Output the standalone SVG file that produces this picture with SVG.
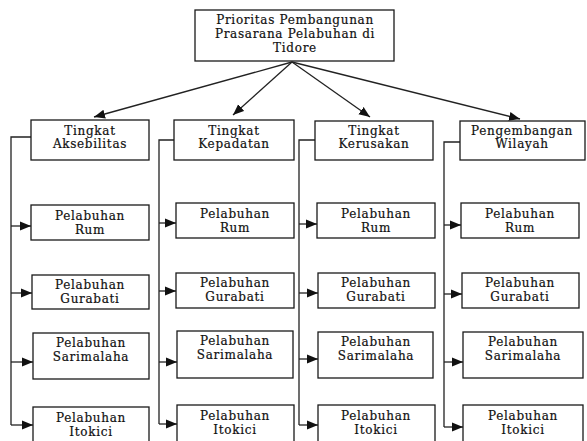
<svg xmlns="http://www.w3.org/2000/svg" width="587" height="441" viewBox="0 0 587 441">
<style>
.box{fill:#fff;stroke:#1a1a1a;stroke-width:1.3}
.t{font-family:"DejaVu Serif","Liberation Serif",serif;font-size:12px;letter-spacing:0.7px;fill:#111;stroke:#111;stroke-width:0.2;text-anchor:middle}
.ln{fill:none;stroke:#222;stroke-width:1.3}
</style>
<defs>
<marker id="ah" markerUnits="userSpaceOnUse" markerWidth="12" markerHeight="10" refX="11" refY="5" orient="auto">
<path d="M0,0.5 L11,5 L0,9.5 z" fill="#111"/>
</marker>
</defs>
<rect width="587" height="441" fill="#fff"/>
<g id="connectors">
<line class="ln" x1="292" y1="62" x2="94" y2="117" marker-end="url(#ah)"/>
<line class="ln" x1="292" y1="62" x2="233" y2="115" marker-end="url(#ah)"/>
<line class="ln" x1="292" y1="62" x2="370" y2="117" marker-end="url(#ah)"/>
<line class="ln" x1="292" y1="62" x2="520" y2="119" marker-end="url(#ah)"/>
<polyline class="ln" points="31,137 11,137 11,425"/>
<line class="ln" x1="11" y1="226" x2="31" y2="226" marker-end="url(#ah)"/>
<line class="ln" x1="11" y1="293" x2="32" y2="293" marker-end="url(#ah)"/>
<line class="ln" x1="11" y1="362" x2="33" y2="362" marker-end="url(#ah)"/>
<line class="ln" x1="11" y1="425" x2="33" y2="425" marker-end="url(#ah)"/>
<polyline class="ln" points="174,140 159,140 159,424"/>
<line class="ln" x1="159" y1="223" x2="176" y2="223" marker-end="url(#ah)"/>
<line class="ln" x1="159" y1="291" x2="176" y2="291" marker-end="url(#ah)"/>
<line class="ln" x1="159" y1="362" x2="177" y2="362" marker-end="url(#ah)"/>
<line class="ln" x1="159" y1="424" x2="177" y2="424" marker-end="url(#ah)"/>
<polyline class="ln" points="315,140 299,140 299,425"/>
<line class="ln" x1="299" y1="224" x2="317" y2="224" marker-end="url(#ah)"/>
<line class="ln" x1="299" y1="293" x2="318" y2="293" marker-end="url(#ah)"/>
<line class="ln" x1="299" y1="359" x2="318" y2="359" marker-end="url(#ah)"/>
<line class="ln" x1="299" y1="425" x2="318" y2="425" marker-end="url(#ah)"/>
<polyline class="ln" points="460,142 444,142 444,427"/>
<line class="ln" x1="444" y1="225" x2="461" y2="225" marker-end="url(#ah)"/>
<line class="ln" x1="444" y1="294" x2="462" y2="294" marker-end="url(#ah)"/>
<line class="ln" x1="444" y1="362" x2="463" y2="362" marker-end="url(#ah)"/>
<line class="ln" x1="444" y1="427" x2="463" y2="427" marker-end="url(#ah)"/>
</g>
<g id="root"><rect class="box" x="195" y="10" width="199" height="51"/>
<text class="t" x="295" y="24">Prioritas Pembangunan</text><text class="t" x="295" y="38">Prasarana Pelabuhan di</text><text class="t" x="295" y="52">Tidore</text></g>
<g id="aks"><rect class="box" x="31" y="120" width="118" height="40"/><text class="t" x="90" y="135">Tingkat</text><text class="t" x="90" y="148">Aksebilitas</text></g>
<g id="kep"><rect class="box" x="174" y="120" width="120" height="40"/><text class="t" x="234" y="135">Tingkat</text><text class="t" x="234" y="148">Kepadatan</text></g>
<g id="ker"><rect class="box" x="315" y="121" width="118" height="39"/><text class="t" x="374" y="135">Tingkat</text><text class="t" x="374" y="148">Kerusakan</text></g>
<g id="wil"><rect class="box" x="460" y="121" width="125" height="39"/><text class="t" x="522" y="135">Pengembangan</text><text class="t" x="522" y="148">Wilayah</text></g>

<g id="c1-rum"><rect class="box" x="31" y="205" width="118" height="35"/><text class="t" x="90" y="220">Pelabuhan</text><text class="t" x="90" y="234">Rum</text></g>
<g id="c1-gur"><rect class="box" x="32" y="275" width="117" height="34"/><text class="t" x="90" y="289">Pelabuhan</text><text class="t" x="90" y="303">Gurabati</text></g>
<g id="c1-sar"><rect class="box" x="33" y="333" width="116" height="46"/><text class="t" x="91" y="347">Pelabuhan</text><text class="t" x="91" y="361">Sarimalaha</text></g>
<g id="c1-ito"><rect class="box" x="33" y="407" width="116" height="44"/><text class="t" x="91" y="422">Pelabuhan</text><text class="t" x="91" y="436">Itokici</text></g>

<g id="c2-rum"><rect class="box" x="176" y="203" width="118" height="35"/><text class="t" x="235" y="218">Pelabuhan</text><text class="t" x="235" y="232">Rum</text></g>
<g id="c2-gur"><rect class="box" x="176" y="273" width="118" height="35"/><text class="t" x="235" y="287">Pelabuhan</text><text class="t" x="235" y="301">Gurabati</text></g>
<g id="c2-sar"><rect class="box" x="177" y="331" width="116" height="47"/><text class="t" x="235" y="345">Pelabuhan</text><text class="t" x="235" y="359">Sarimalaha</text></g>
<g id="c2-ito"><rect class="box" x="177" y="405" width="117" height="46"/><text class="t" x="235" y="420">Pelabuhan</text><text class="t" x="235" y="434">Itokici</text></g>

<g id="c3-rum"><rect class="box" x="317" y="203" width="118" height="35"/><text class="t" x="376" y="218">Pelabuhan</text><text class="t" x="376" y="232">Rum</text></g>
<g id="c3-gur"><rect class="box" x="318" y="273" width="117" height="35"/><text class="t" x="376" y="287">Pelabuhan</text><text class="t" x="376" y="301">Gurabati</text></g>
<g id="c3-sar"><rect class="box" x="318" y="332" width="115" height="46"/><text class="t" x="376" y="346">Pelabuhan</text><text class="t" x="376" y="360">Sarimalaha</text></g>
<g id="c3-ito"><rect class="box" x="318" y="405" width="117" height="46"/><text class="t" x="376" y="420">Pelabuhan</text><text class="t" x="376" y="434">Itokici</text></g>

<g id="c4-rum"><rect class="box" x="461" y="203" width="118" height="35"/><text class="t" x="520" y="218">Pelabuhan</text><text class="t" x="520" y="232">Rum</text></g>
<g id="c4-gur"><rect class="box" x="462" y="273" width="117" height="35"/><text class="t" x="520" y="287">Pelabuhan</text><text class="t" x="520" y="301">Gurabati</text></g>
<g id="c4-sar"><rect class="box" x="463" y="332" width="120" height="46"/><text class="t" x="523" y="346">Pelabuhan</text><text class="t" x="523" y="360">Sarimalaha</text></g>
<g id="c4-ito"><rect class="box" x="463" y="405" width="120" height="46"/><text class="t" x="523" y="420">Pelabuhan</text><text class="t" x="523" y="434">Itokici</text></g>
</svg>
